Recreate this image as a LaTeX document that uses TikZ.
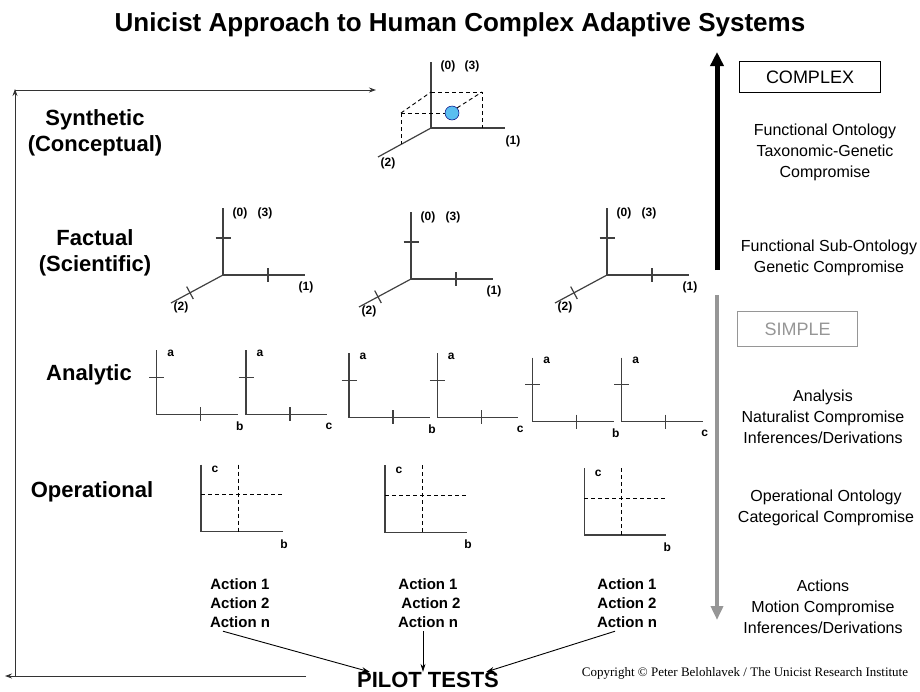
\documentclass[tikz,border=0pt]{standalone}
\usepackage{fontspec}
\setmainfont{Liberation Sans}
\newfontfamily\timesfont{Liberation Serif}
\usetikzlibrary{arrows.meta,positioning}
\definecolor{dotblue}{RGB}{90,190,240}
\definecolor{lightgrey}{RGB}{150,150,150}
\tikzset{every picture/.style={line width=0.75pt}}
\tikzset{
  ttl/.style={font=\bfseries\fontsize{26}{30}\selectfont},
  lvl/.style={font=\bfseries\fontsize{22}{26}\selectfont, align=center},
  axlbl/.style={font=\bfseries\fontsize{12}{14}\selectfont, inner sep=0pt},
  axis/.style={draw=black!75, line width=1.2pt},
  dsh/.style={draw=black, line width=0.9pt, dash pattern=on 4pt off 3pt},
  frame/.style={draw=black!80, line width=0.9pt, -{Stealth[length=7pt,width=5pt]}},
  note/.style={font=\fontsize{16}{21}\selectfont, align=center},
  act/.style={font=\bfseries\fontsize{15}{19}\selectfont, align=center},
  thin/.style={draw=black, line width=0.9pt, -{Stealth[length=8pt,width=5pt]}}
}

\begin{document}
\begin{tikzpicture}[x=1pt,y=-1pt]
\useasboundingbox (0,0) rectangle (920,691);
\node[ttl] (title) at (460,25) {Unicist Approach to Human Complex Adaptive Systems};
%
% frame on the left
\coordinate (fbot) at (15,676);
\coordinate (ftop) at (15,89);
\coordinate (fcorner) at (15,90);
\coordinate (fright) at (376,90);
\coordinate (fend) at (306,676);
\coordinate (fleft) at (5,676);
\draw[frame] (fbot) to (ftop);
\draw[frame] (fcorner) to (fright);
\draw[frame] (fend) to (fleft);
%
\node[lvl] (syn) at (95,133) {Synthetic\\(Conceptual)};
\node[lvl] (fac) at (95,253) {Factual\\(Scientific)};
\node[lvl] (ana) at (89,375) {Analytic};
\node[lvl] (ope) at (92,492) {Operational};
%
% synthetic axes
\begin{scope}[shift={(431,128)}]
\coordinate (so) at (0,0);
\draw[axis] (0,-66) -- (so) -- (74,0);
\draw[axis] (so) -- (-53,29);
\node[circle, fill=dotblue, draw=blue!50!black, line width=0.5pt, minimum size=14pt, inner sep=0pt] (dot) at (21,-15) {};
\draw[dsh] (0,-36) -- (51,-36) -- (51,0);
\draw[dsh] (-30,-15) -- (0,-36);
\draw[dsh] (-30,-15) -- (-30,16);
\draw[dsh] (-30,-15) -- (dot.west);
\draw[dsh] (dot.north east) -- (51,-36);
\node[axlbl] (s0) at (17,-62) {(0)};
\node[axlbl] (s3) at (41,-62) {(3)};
\node[axlbl] (s1) at (82,13) {(1)};
\node[axlbl] (s2) at (-43,35) {(2)};
\end{scope}
%
% factual axes
\foreach \X/\Y/\i in {223/275/1, 411/279/2, 607/275/3}{
\begin{scope}[shift={(\X,\Y)}]
\draw[axis] (0,-67) -- (0,0) -- (82,0);
\draw[axis] (0,0) -- (-52,28);
\draw[axis] (-7.5,-37) -- (7.5,-37);
\draw[axis] (45,-7) -- (45,7);
\draw[axis] (-36.3,11.6) -- (-29.7,24);
\node[axlbl] (f\i a) at (17,-62) {(0)};
\node[axlbl] (f\i b) at (42,-62) {(3)};
\node[axlbl] (f\i c) at (83,12) {(1)};
\node[axlbl] (f\i d) at (-42,32) {(2)};
\end{scope}}
%
% analytic axes
\foreach \X/\Y/\t/\i in {156.7/414.3/b/1, 246/414.3/c/2, 349/417.3/b/3,
                         437.3/417.3/c/4, 532.7/421.7/b/5, 621.7/421.7/c/6}{
\begin{scope}[shift={(\X,\Y)}]
\draw[axis] (0,-64) -- (0,0) -- (81,0);
\draw[axis] (-7.5,-37) -- (7.5,-37);
\draw[axis] (44,-7) -- (44,7);
\node[axlbl] (a\i a) at (14,-61) {a};
\node[axlbl] (a\i b) at (83,12) {\t};
\end{scope}}
%
% operational charts
\foreach \X/\Y/\i in {201/531.7/1, 385/532.3/2, 584.3/535/3}{
\begin{scope}[shift={(\X,\Y)}]
\draw[axis] (0,-67) -- (0,0) -- (82,0);
\draw[dsh] (0,-37) -- (82,-37);
\draw[dsh] (37,-67) -- (37,0);
\node[axlbl] (o\i a) at (14,-62) {c};
\node[axlbl] (o\i b) at (83,12) {b};
\end{scope}}
%
\node[act] (act1) at (240,603) {Action 1\\Action 2\\Action n};
\node[act] (act2) at (428,603) {Action 1\\\hspace*{6pt}Action 2\\Action n};
\node[act] (act3) at (627,603) {Action 1\\Action 2\\Action n};
\node[font=\bfseries\fontsize{22}{25}\selectfont, inner sep=1pt] (pilot) at (428,680) {PILOT TESTS};
\draw[thin] ([xshift=-17pt]act1.south) to ([xshift=14pt,yshift=-1pt]pilot.north west);
\draw[thin] ([xshift=-5pt]act2.south) to ([xshift=-5pt,yshift=-1pt]pilot.north);
\draw[thin] ([xshift=-12pt]act3.south) to ([xshift=-14pt,yshift=-1pt]pilot.north east);
%
% right column
\coordinate (cxbot) at (717,270);
\coordinate (cxtop) at (717,52);
\coordinate (smtop) at (717,295);
\coordinate (smbot) at (717,620);
\draw[line width=5pt, -{Triangle[length=14pt,width=13pt]}] (cxbot) to (cxtop);
\draw[lightgrey, line width=4pt, -{Triangle[length=14pt,width=12pt]}] (smtop) to (smbot);
\node[draw, line width=0.9pt, minimum width=141pt, minimum height=31pt, font=\fontsize{18}{21}\selectfont] (complex) at (810,77) {COMPLEX};
\node[draw=lightgrey, text=lightgrey, line width=0.9pt, minimum width=120pt, minimum height=35pt, font=\fontsize{18}{21}\selectfont] (simple) at (797.5,329) {SIMPLE};
\node[note] (n1) at (825,152) {Functional Ontology\\Taxonomic-Genetic\\Compromise};
\node[note] (n2) at (829,258) {Functional Sub-Ontology\\Genetic Compromise};
\node[note] (n3) at (823,417) {Analysis\\Naturalist Compromise\\Inferences/Derivations};
\node[note] (n4) at (826,508) {Operational Ontology\\Categorical Compromise};
\node[note] (n5) at (823,607) {Actions\\Motion Compromise\\Inferences/Derivations};
\node[font=\timesfont\fontsize{13}{15}\selectfont] (copy) at (745,673) {Copyright \textcopyright{} Peter Belohlavek / The Unicist Research Institute};
\end{tikzpicture}
\end{document}
